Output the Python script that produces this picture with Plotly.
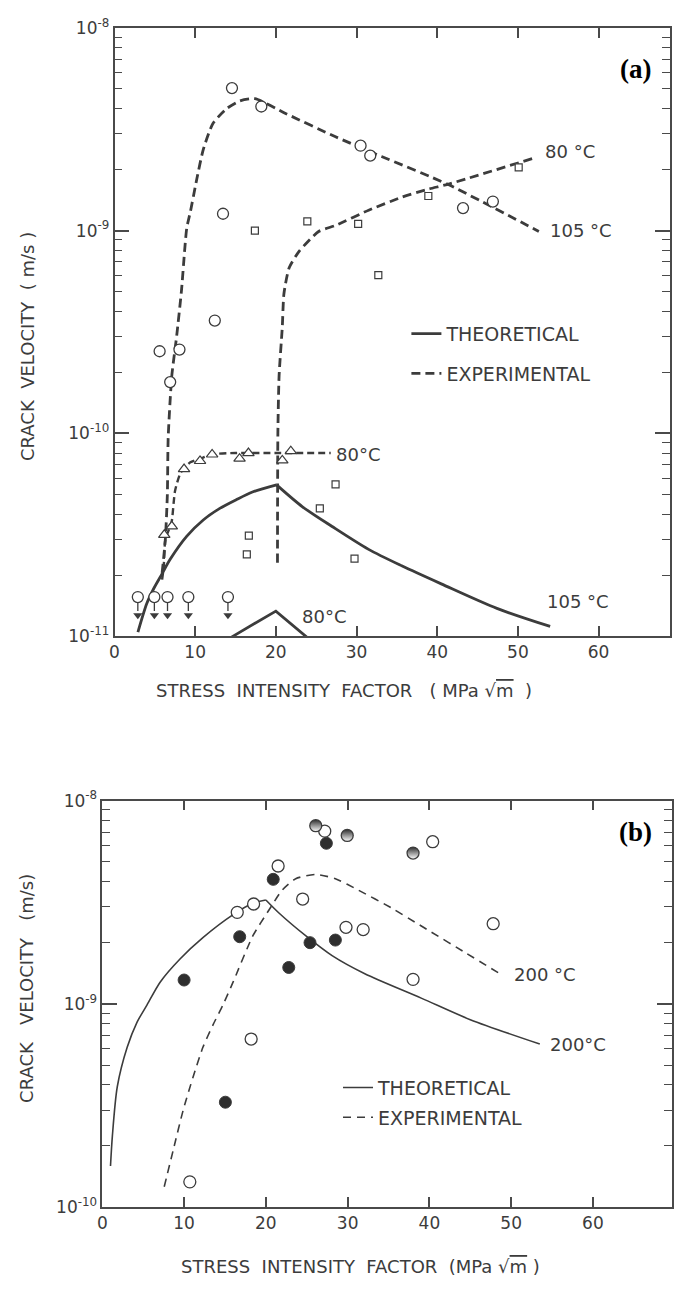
import plotly.graph_objects as go

W, H = 674, 1294
INK = "#3c3c3c"
AX = "#4a4a4a"
FONT = "DejaVu Sans"

# ---------------- Panel (a) data ----------------
# theoretical curves
a_th105_K = [2.9, 4.0, 4.85, 5.87, 6.9, 8.94, 11.0, 13.05, 15.09, 17.1, 20.09,
             23.3, 26.97, 31.5, 35.6, 40.5, 47.4, 54.0]
a_th105_v = [1.047e-11, 1.449e-11, 1.714e-11, 2.023e-11, 2.393e-11, 3.105e-11,
             3.741e-11, 4.266e-11, 4.710e-11, 5.140e-11, 5.572e-11, 4.345e-11,
             3.475e-11, 2.679e-11, 2.223e-11, 1.811e-11, 1.371e-11, 1.117e-11]
a_th80_K = [14.5, 20.0, 24.0]
a_th80_v = [9.9e-12, 1.33e-11, 9.77e-12]

# experimental curves
a_ex105_K = [5.9, 6.3, 6.55, 6.65, 7.1, 7.7, 8.3, 8.95, 9.4, 10.2, 11.0, 12.2,
             13.9, 15.5, 17.4, 21.2, 27.4, 33.1, 41.3, 52.6]
a_ex105_v = [2.05e-11, 3.0e-11, 5.0e-11, 9.5e-11, 1.92e-10, 3.01e-10, 5.06e-10,
             1.026e-9, 1.236e-9, 1.795e-9, 2.506e-9, 3.373e-9, 3.99e-9, 4.35e-9,
             4.467e-9, 3.78e-9, 2.90e-9, 2.32e-9, 1.69e-9, 9.9e-10]
a_ex80sq_K = [20.2, 20.25, 20.4, 20.8, 21.0, 21.65, 22.9, 25.3, 27.4, 31.5,
              35.6, 38.9, 41.3, 52.2]
a_ex80sq_v = [2.3e-11, 1.0e-10, 1.92e-10, 3.36e-10, 4.88e-10, 6.56e-10, 7.91e-10,
              9.89e-10, 1.06e-9, 1.26e-9, 1.46e-9, 1.60e-9, 1.69e-9, 2.29e-9]
a_ex80tr_K = [5.9, 6.1, 6.3, 6.8, 7.1, 7.5, 8.2, 9.4, 11.0, 12.2, 15.0, 20.0, 26.8]
a_ex80tr_v = [1.9e-11, 2.2e-11, 3.0e-11, 3.4e-11, 3.7e-11, 5.2e-11, 6.4e-11,
              7.2e-11, 7.6e-11, 7.9e-11, 8.0e-11, 8.0e-11, 8.0e-11]

# data points
a_circ_K = [5.59, 6.9, 8.05, 12.43, 13.45, 14.56, 18.2, 30.5, 31.7, 43.2, 46.9]
a_circ_v = [2.54e-10, 1.79e-10, 2.59e-10, 3.6e-10, 1.21e-9, 5.04e-9, 4.09e-9,
            2.62e-9, 2.34e-9, 1.29e-9, 1.39e-9]
a_sq_K = [16.4, 16.65, 17.4, 23.9, 25.45, 27.4, 29.75, 30.2, 32.7, 38.9, 50.1]
a_sq_v = [2.53e-11, 3.13e-11, 1.0e-9, 1.11e-9, 4.27e-11, 5.6e-11, 2.41e-11,
          1.08e-9, 6.03e-10, 1.48e-9, 2.05e-9]
a_tri_K = [6.17, 7.1, 8.62, 10.6, 12.1, 15.5, 16.6, 20.8, 21.85]
a_tri_v = [3.16e-11, 3.48e-11, 6.67e-11, 7.31e-11, 7.87e-11, 7.5e-11, 8.0e-11,
           7.36e-11, 8.17e-11]
# upper-bound points (no growth detected) drawn as circle + down arrow
a_arrow_K = [2.89, 4.94, 6.57, 9.15, 14.06]
a_arrow_v = 1.56e-11
a_arrow_stem = (1.47e-11, 1.33e-11)
a_arrow_tip = 1.27e-11

# ---------------- Panel (b) data ----------------
b_th_K = [1.0, 1.23, 1.83, 3.04, 4.25, 5.47, 7.09, 9.5, 12.3, 16.0, 18.4, 20.0,
          21.6, 24.9, 28.1, 32.1, 39.0, 45.0, 53.5]
b_th_v = [1.592e-10, 2.239e-10, 3.908e-10, 6.109e-10, 8.128e-10, 9.886e-10,
          1.282e-9, 1.663e-9, 2.118e-9, 2.748e-9, 3.126e-9, 3.243e-9, 2.799e-9,
          2.158e-9, 1.726e-9, 1.406e-9, 1.067e-9, 8.356e-10, 6.339e-10]
b_ex_K = [7.57, 8.7, 9.9, 11.1, 12.3, 13.55, 14.76, 16.0, 18.4, 20.4, 22.0,
          23.65, 26.1, 28.5, 31.3, 35.4, 38.4, 40.2, 44.4, 48.8]
b_ex_v = [1.259e-10, 1.928e-10, 3.013e-10, 4.365e-10, 6.109e-10, 7.907e-10,
          9.886e-10, 1.282e-9, 2.158e-9, 2.904e-9, 3.631e-9, 4.130e-9, 4.335e-9,
          4.130e-9, 3.631e-9, 2.958e-9, 2.500e-9, 2.259e-9, 1.786e-9, 1.393e-9]
b_fill_K = [10.0, 15.05, 16.8, 20.9, 22.8, 25.4, 27.4, 28.5]
b_fill_v = [1.31e-9, 3.28e-10, 2.14e-9, 4.1e-9, 1.51e-9, 2.0e-9, 6.17e-9, 2.06e-9]
b_half_K = [26.1, 29.95, 38.0]
b_half_v = [7.53e-9, 6.74e-9, 5.52e-9]
b_open_K = [10.7, 16.5, 18.2, 18.5, 21.5, 24.5, 27.2, 29.8, 31.9, 38.0, 40.4, 47.8]
b_open_v = [1.33e-10, 2.82e-9, 6.71e-10, 3.1e-9, 4.77e-9, 3.28e-9, 7.08e-9,
            2.38e-9, 2.32e-9, 1.32e-9, 6.28e-9, 2.48e-9]

x_ticks = [0, 10, 20, 30, 40, 50, 60]

fig = go.Figure()

LW_A = 2.8
DASH_A = "9px,5px"
LW_B = 1.6
DASH_B = "8px,6px"


def peak_index(vals):
    return max(range(len(vals)), key=lambda i: vals[i])


# ----- panel (a) traces -----
pa = peak_index(a_th105_v)
fig.add_trace(go.Scatter(x=a_th105_K[:pa + 1], y=a_th105_v[:pa + 1], mode="lines",
                         name="THEORETICAL",
                         line=dict(color=INK, width=LW_A, shape="spline", smoothing=0.8),
                         legend="legend", legendgroup="a1", xaxis="x", yaxis="y"))
fig.add_trace(go.Scatter(x=a_th105_K[pa:], y=a_th105_v[pa:], mode="lines", showlegend=False,
                         line=dict(color=INK, width=LW_A, shape="spline", smoothing=0.8),
                         legendgroup="a1", xaxis="x", yaxis="y"))
fig.add_trace(go.Scatter(x=a_th80_K, y=a_th80_v, mode="lines", showlegend=False,
                         line=dict(color=INK, width=LW_A), xaxis="x", yaxis="y"))
fig.add_trace(go.Scatter(x=a_ex105_K, y=a_ex105_v, mode="lines", name="EXPERIMENTAL",
                         line=dict(color=INK, width=LW_A, dash=DASH_A, shape="spline", smoothing=0.6),
                         legend="legend", legendgroup="a2", xaxis="x", yaxis="y"))
fig.add_trace(go.Scatter(x=a_ex80sq_K, y=a_ex80sq_v, mode="lines", showlegend=False,
                         line=dict(color=INK, width=LW_A, dash=DASH_A, shape="spline", smoothing=0.6),
                         xaxis="x", yaxis="y"))
fig.add_trace(go.Scatter(x=a_ex80tr_K, y=a_ex80tr_v, mode="lines", showlegend=False,
                         line=dict(color=INK, width=2.4, dash="7px,4px", shape="spline", smoothing=0.6),
                         xaxis="x", yaxis="y"))
fig.add_trace(go.Scatter(x=a_circ_K, y=a_circ_v, mode="markers", showlegend=False,
                         marker=dict(symbol="circle", size=11, color="white",
                                     line=dict(color=INK, width=1.3)),
                         xaxis="x", yaxis="y"))
fig.add_trace(go.Scatter(x=a_sq_K, y=a_sq_v, mode="markers", showlegend=False,
                         marker=dict(symbol="square", size=7, color="white",
                                     line=dict(color=INK, width=1.2)),
                         xaxis="x", yaxis="y"))
fig.add_trace(go.Scatter(x=a_tri_K, y=a_tri_v, mode="markers", showlegend=False,
                         marker=dict(symbol="triangle-up", size=10, color="white",
                                     line=dict(color=INK, width=1.2)),
                         xaxis="x", yaxis="y"))
stem_x, stem_y = [], []
for k in a_arrow_K:
    stem_x += [k, k, None]
    stem_y += [a_arrow_stem[0], a_arrow_stem[1], None]
fig.add_trace(go.Scatter(x=stem_x, y=stem_y, mode="lines", showlegend=False,
                         line=dict(color=INK, width=1.3), xaxis="x", yaxis="y"))
fig.add_trace(go.Scatter(x=a_arrow_K, y=[a_arrow_tip] * len(a_arrow_K), mode="markers",
                         showlegend=False,
                         marker=dict(symbol="triangle-down", size=8, color=INK,
                                     line=dict(width=0)),
                         xaxis="x", yaxis="y"))
fig.add_trace(go.Scatter(x=a_arrow_K, y=[a_arrow_v] * len(a_arrow_K), mode="markers",
                         showlegend=False,
                         marker=dict(symbol="circle", size=11, color="white",
                                     line=dict(color=INK, width=1.3)),
                         xaxis="x", yaxis="y"))

# ----- panel (b) traces -----
pb = peak_index(b_th_v)
fig.add_trace(go.Scatter(x=b_th_K[:pb + 1], y=b_th_v[:pb + 1], mode="lines", name="THEORETICAL",
                         line=dict(color=INK, width=LW_B, shape="spline", smoothing=0.8),
                         legend="legend2", legendgroup="b1", xaxis="x2", yaxis="y2"))
fig.add_trace(go.Scatter(x=b_th_K[pb:], y=b_th_v[pb:], mode="lines", showlegend=False,
                         line=dict(color=INK, width=LW_B, shape="spline", smoothing=0.8),
                         legendgroup="b1", xaxis="x2", yaxis="y2"))
fig.add_trace(go.Scatter(x=b_ex_K, y=b_ex_v, mode="lines", name="EXPERIMENTAL",
                         line=dict(color=INK, width=LW_B, dash=DASH_B, shape="spline", smoothing=0.6),
                         legend="legend2", legendgroup="b2", xaxis="x2", yaxis="y2"))
fig.add_trace(go.Scatter(x=b_open_K, y=b_open_v, mode="markers", showlegend=False,
                         marker=dict(symbol="circle", size=12, color="white",
                                     line=dict(color=INK, width=1.3)),
                         xaxis="x2", yaxis="y2"))
fig.add_trace(go.Scatter(x=b_fill_K, y=b_fill_v, mode="markers", showlegend=False,
                         marker=dict(symbol="circle", size=12, color="#2e2e2e",
                                     line=dict(color=INK, width=1.0)),
                         xaxis="x2", yaxis="y2"))
fig.add_trace(go.Scatter(x=b_half_K, y=b_half_v, mode="markers", showlegend=False,
                         marker=dict(symbol="circle", size=12, color="#2e2e2e",
                                     gradient=dict(type="vertical", color="white"),
                                     line=dict(color=INK, width=1.3)),
                         xaxis="x2", yaxis="y2"))


def px_x(px):
    return px / W


def px_y(py):
    return 1 - py / H


tickfont = dict(family=FONT, size=17, color=INK)
common_x = dict(showline=True, linecolor=AX, linewidth=1.6, mirror="allticks",
                ticks="inside", ticklen=10, tickwidth=1.5, tickcolor=AX,
                showgrid=False, zeroline=False, tickmode="array",
                tickvals=x_ticks, ticktext=[str(t) for t in x_ticks],
                tickfont=tickfont)


def minor_vals(e0, e1):
    return [m * 10.0 ** e for e in range(e0, e1) for m in range(2, 10)]


common_y = dict(type="log", showline=True, linecolor=AX, linewidth=1.6,
                mirror="allticks", ticks="inside", ticklen=15, tickwidth=1.5,
                tickcolor=AX, showgrid=False, zeroline=False, tickfont=tickfont)

fig.update_layout(
    width=W, height=H, autosize=False,
    margin=dict(l=0, r=0, t=0, b=0),
    paper_bgcolor="white", plot_bgcolor="white",
    font=dict(family=FONT, color=INK),
    xaxis=dict(domain=[110.5 / W, 671 / W], range=[0, 68.86], anchor="y", **common_x),
    yaxis=dict(domain=[1 - 635 / H, 1 - 16 / H], range=[-11, -8], anchor="x",
               tickmode="array", tickvals=[1e-11, 1e-10, 1e-9, 1e-8],
               ticktext=["10<sup>-11</sup>", "10<sup>-10</sup>", "10<sup>-9</sup>", "10<sup>-8</sup>"],
               minor=dict(tickmode="array", tickvals=minor_vals(-11, -8), ticks="inside",
                          ticklen=8, tickwidth=1.2, tickcolor=AX, showgrid=False),
               **common_y),
    xaxis2=dict(domain=[98.2 / W, 673 / W], range=[0, 69.67], anchor="y2", **common_x),
    yaxis2=dict(domain=[1 - 1215.7 / H, 1 - 802.3 / H], range=[-10, -8], anchor="x2",
                tickmode="array", tickvals=[1e-10, 1e-9, 1e-8],
                ticktext=["10<sup>-10</sup>", "10<sup>-9</sup>", "10<sup>-8</sup>"],
                minor=dict(tickmode="array", tickvals=minor_vals(-10, -8), ticks="inside",
                           ticklen=8, tickwidth=1.2, tickcolor=AX, showgrid=False),
                **common_y),
    legend=dict(x=px_x(405), y=px_y(308), xanchor="left", yanchor="top",
                bgcolor="rgba(0,0,0,0)", tracegroupgap=12,
                font=dict(family=FONT, size=19, color=INK)),
    legend2=dict(x=px_x(336), y=px_y(1075), xanchor="left", yanchor="top",
                 bgcolor="rgba(0,0,0,0)", tracegroupgap=2,
                 font=dict(family=FONT, size=19, color=INK)),
)

lab = dict(family=FONT, size=18, color=INK)
annots = [
    # panel (a) curve labels
    dict(text="80 °C", x=px_x(543), y=px_y(142)),
    dict(text="105 °C", x=px_x(548), y=px_y(222)),
    dict(text="80°C", x=px_x(332), y=px_y(450)),
    dict(text="80°C", x=px_x(298), y=px_y(615)),
    dict(text="105 °C", x=px_x(545), y=px_y(600)),
    # panel (b) curve labels
    dict(text="200 °C", x=px_x(512), y=px_y(979)),
    dict(text="200°C", x=px_x(548), y=px_y(1050)),
]
for a in annots:
    fig.add_annotation(xref="paper", yref="paper", xanchor="left", yanchor="middle",
                       showarrow=False, font=lab, **a)

# axis titles
fig.add_annotation(text="STRESS  INTENSITY  FACTOR   ( MPa √<span style='text-decoration:overline'>m</span>  )",
                   x=px_x(150), y=px_y(690), xref="paper", yref="paper",
                   xanchor="left", yanchor="middle", showarrow=False, font=lab)
fig.add_annotation(text="STRESS  INTENSITY  FACTOR  (MPa √<span style='text-decoration:overline'>m</span> )",
                   x=px_x(176), y=px_y(1276), xref="paper", yref="paper",
                   xanchor="left", yanchor="middle", showarrow=False, font=lab)
fig.add_annotation(text="CRACK  VELOCITY  ( m/s )", textangle=-90,
                   x=px_x(22), y=px_y(340), xref="paper", yref="paper",
                   xanchor="center", yanchor="middle", showarrow=False, font=lab)
fig.add_annotation(text="CRACK   VELOCITY   (m/s)", textangle=-90,
                   x=px_x(21), y=px_y(993), xref="paper", yref="paper",
                   xanchor="center", yanchor="middle", showarrow=False, font=lab)

# panel letters
panel_font = dict(family="Liberation Serif", size=27, color="black")
fig.add_annotation(text="<b>(a)</b>", x=px_x(636), y=px_y(58), xref="paper", yref="paper",
                   xanchor="center", yanchor="middle", showarrow=False, font=panel_font)
fig.add_annotation(text="<b>(b)</b>", x=px_x(636), y=px_y(834), xref="paper", yref="paper",
                   xanchor="center", yanchor="middle", showarrow=False, font=panel_font)

fig.write_html("out.html")
